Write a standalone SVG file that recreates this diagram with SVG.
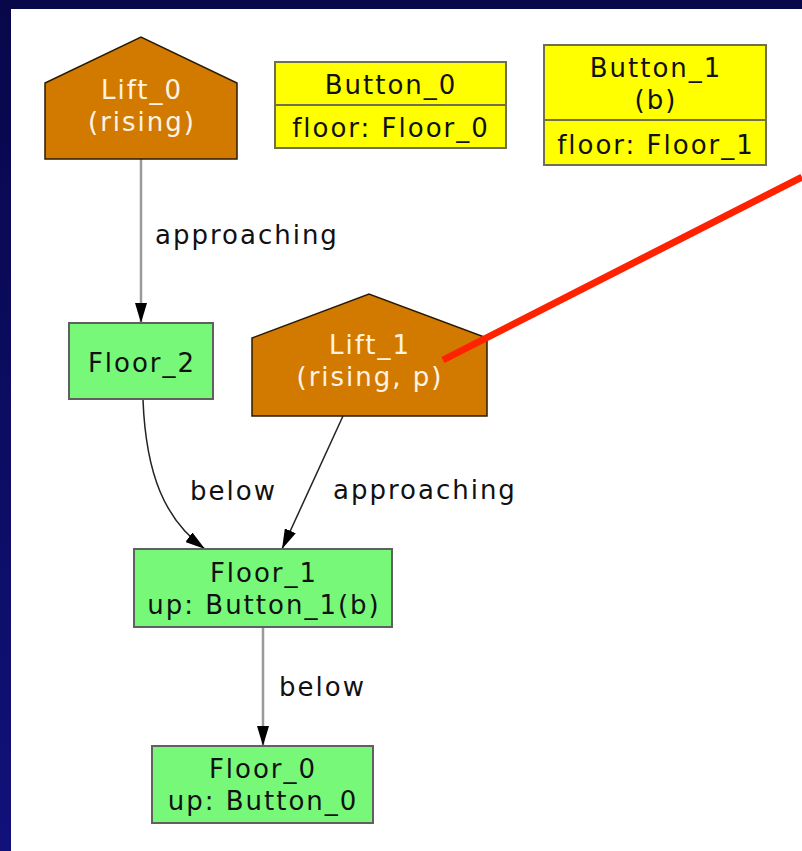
<svg xmlns="http://www.w3.org/2000/svg" width="802" height="851" viewBox="0 0 802 851">
<defs>
<linearGradient id="bg" x1="0" y1="0" x2="0" y2="1">
<stop offset="0" stop-color="#07074a"/>
<stop offset="1" stop-color="#11117a"/>
</linearGradient>
<marker id="arr" viewBox="0 0 20 12" refX="20" refY="6" markerWidth="20" markerHeight="12" markerUnits="userSpaceOnUse" orient="auto">
<path d="M0,0 L20,6 L0,12 z" fill="#000"/>
</marker>
<style>
text{font-family:"DejaVu Sans","Verdana",sans-serif;font-size:26px;letter-spacing:2px;text-anchor:middle;fill:#111}
.lift{fill:#d27a00;stroke:#2a1a05;stroke-width:1.5}
.lift-t{fill:#fff4e4}
.btn{fill:#ffff00;stroke:#707050;stroke-width:2}
.floor{fill:#78f878;stroke:#606060;stroke-width:2}
.e-gray{fill:none;stroke:#9a9a9a;stroke-width:2.5}
.e-dark{fill:none;stroke:#222;stroke-width:1.5}
.lbl{text-anchor:start}
</style>
</defs>
<rect x="0" y="0" width="802" height="851" fill="url(#bg)"/>
<rect x="11" y="9" width="791" height="842" fill="#fff"/>

<g id="connectors">
<line class="e-gray" x1="141" y1="159" x2="141" y2="323" marker-end="url(#arr)"/>
<text class="lbl" x="155" y="244">approaching</text>
<path class="e-dark" d="M143,400 C146,475 165,520 205,549" marker-end="url(#arr)"/>
<text class="lbl" x="190" y="500">below</text>
<line class="e-dark" x1="343" y1="416" x2="282" y2="549" marker-end="url(#arr)"/>
<text class="lbl" x="333" y="499">approaching</text>
<line class="e-gray" x1="263" y1="627" x2="263" y2="746" marker-end="url(#arr)"/>
<text class="lbl" x="279" y="696">below</text>
</g>

<g id="Lift_0">
<polygon class="lift" points="45,159 45,83 141,37 237,83 237,159"/>
<text class="lift-t" x="142" y="99">Lift_0</text>
<text class="lift-t" x="142" y="131">(rising)</text>
</g>

<g id="Button_0">
<rect class="btn" x="275" y="62" width="231" height="86"/>
<line x1="275" y1="105" x2="506" y2="105" stroke="#707050" stroke-width="2"/>
<text x="391" y="94">Button_0</text>
<text x="391" y="137">floor: Floor_0</text>
</g>

<g id="Button_1">
<rect class="btn" x="544" y="45" width="222" height="120"/>
<line x1="544" y1="120" x2="766" y2="120" stroke="#707050" stroke-width="2"/>
<text x="656" y="77">Button_1</text>
<text x="656" y="109">(b)</text>
<text x="656" y="154">floor: Floor_1</text>
</g>

<g id="Floor_2">
<rect class="floor" x="69" y="323" width="144" height="76"/>
<text x="142" y="372">Floor_2</text>
</g>

<g id="Lift_1">
<polygon class="lift" points="252,416 252,338 369,294 487,338 487,416"/>
<text class="lift-t" x="370" y="354">Lift_1</text>
<text class="lift-t" x="370" y="386">(rising, p)</text>
</g>

<g id="Floor_1">
<rect class="floor" x="134" y="549" width="258" height="78"/>
<text x="264" y="582">Floor_1</text>
<text x="264" y="614">up: Button_1(b)</text>
</g>

<g id="Floor_0">
<rect class="floor" x="152" y="746" width="221" height="77"/>
<text x="263" y="778">Floor_0</text>
<text x="263" y="810">up: Button_0</text>
</g>

<line id="pointer" x1="443" y1="360" x2="802" y2="177" stroke="#ff2200" stroke-width="7"/>
</svg>
